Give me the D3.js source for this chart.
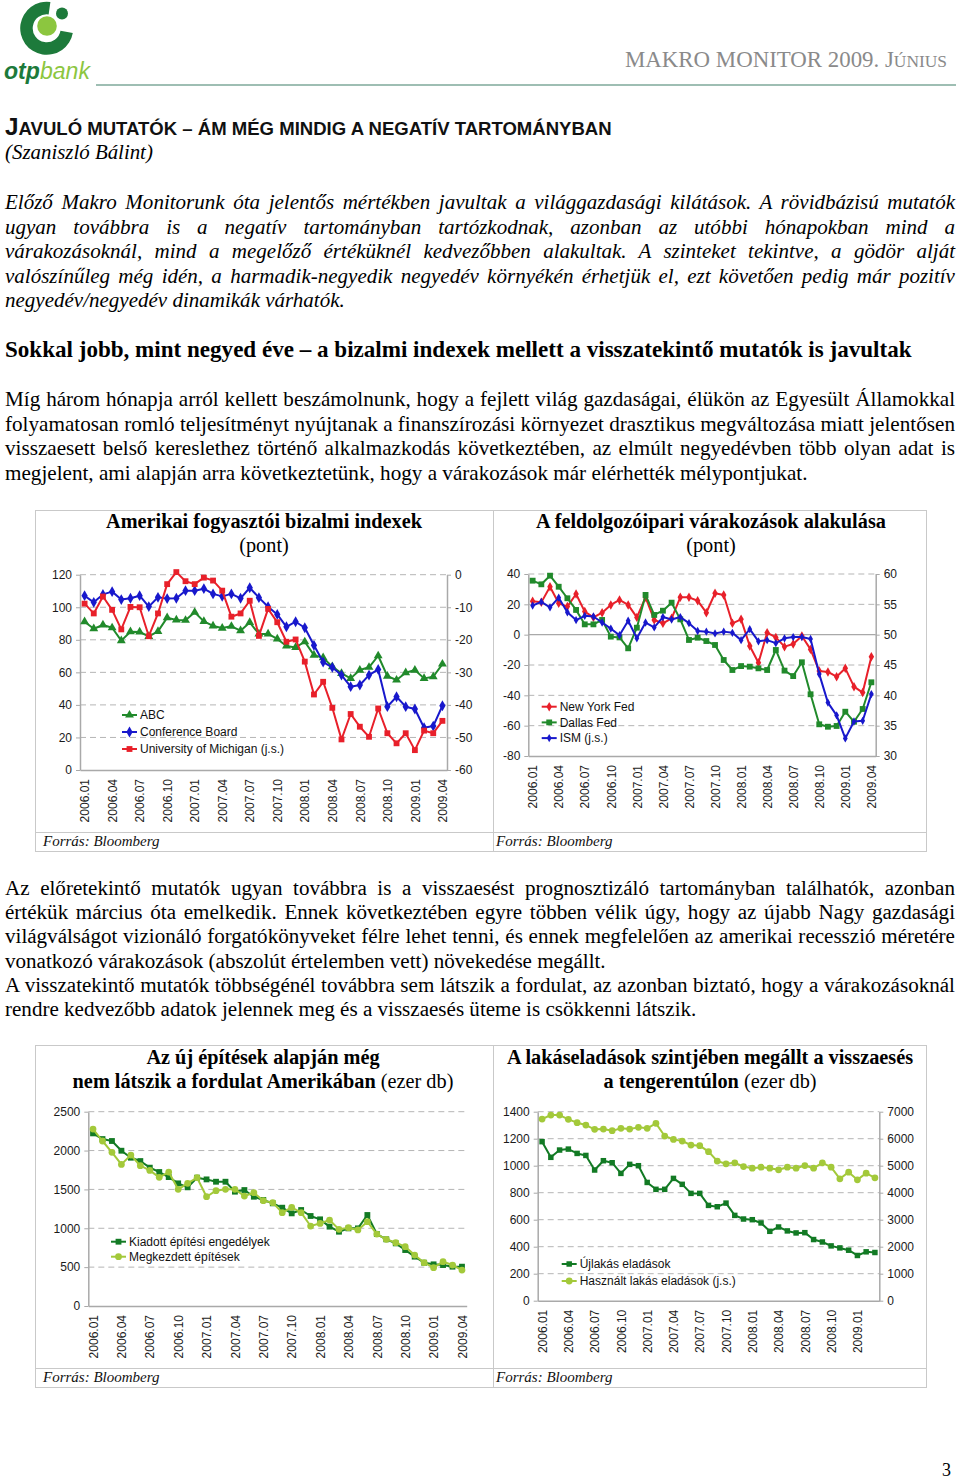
<!DOCTYPE html>
<html><head><meta charset="utf-8">
<script src="https://cdn.jsdelivr.net/npm/d3@7"></script>
<style>body{margin:0;background:#fff;}svg{display:block;}</style>
</head><body>
<svg id="page" width="960" height="1481"></svg>
<script>
// ---------------- DATA ----------------
const months = ["2006.01","2006.02","2006.03","2006.04","2006.05","2006.06","2006.07","2006.08","2006.09","2006.10","2006.11","2006.12",
"2007.01","2007.02","2007.03","2007.04","2007.05","2007.06","2007.07","2007.08","2007.09","2007.10","2007.11","2007.12",
"2008.01","2008.02","2008.03","2008.04","2008.05","2008.06","2008.07","2008.08","2008.09","2008.10","2008.11","2008.12",
"2009.01","2009.02","2009.03","2009.04"];
const months39 = months.slice(0, 39);
const xTickLabels = ["2006.01","2006.04","2006.07","2006.10","2007.01","2007.04","2007.07","2007.10","2008.01","2008.04","2008.07","2008.10","2009.01","2009.04"];
const xTickLabels4 = ["2006.01","2006.04","2006.07","2006.10","2007.01","2007.04","2007.07","2007.10","2008.01","2008.04","2008.07","2008.10","2009.01"];

// Chart 1: Amerikai fogyasztói bizalmi indexek (pont)
const c1LeftTicks = [0,20,40,60,80,100,120];
const c1RightTicks = [-60,-50,-40,-30,-20,-10,0];
const c1Abc = [91.1,86.8,89.1,87.4,79.5,85.0,84.8,82.1,85.2,93.6,92.2,92.0,96.9,91.3,88.5,87.2,88.3,85.6,90.7,83.6,
               83.6,80.5,76.2,75.3,78.8,70.6,69.0,63.5,59.4,56.3,61.4,63.1,70.2,57.7,55.3,59.8,61.4,56.3,57.3,65.1];
const c1ConfBoard = [107.1,103.0,107.9,109.6,104.7,105.5,107.1,100.4,106.1,105.3,105.5,110.2,110.2,111.4,108.2,106.7,108.2,105.5,112.0,105.9,
               100.3,95.6,88.0,91.1,87.4,76.6,66.3,63.1,58.3,51.2,52.2,58.3,61.8,38.9,45.0,38.9,37.5,26.0,27.0,39.5];
const c1Michigan = [-8.9,-11.9,-6.7,-10.8,-16.8,-9.9,-10.0,-18.9,-11.9,-2.9,0.8,-2.0,-2.9,-0.9,-1.8,-4.9,-12.9,-11.9,-8.0,-18.8,
               -10.5,-14.6,-20.6,-19.9,-26.7,-36.8,-32.9,-40.9,-50.6,-42.8,-46.7,-49.8,-41.1,-48.7,-51.8,-48.7,-53.9,-47.9,-48.7,-44.9];
const c1Legend = ["ABC","Conference Board","University of Michigan (j.s.)"];

// Chart 2: A feldolgozóipari várakozások alakulása (pont)
const c2LeftTicks = [-80,-60,-40,-20,0,20,40];
const c2RightTicks = [30,35,40,45,50,55,60];
const c2NyFed = [22.0,21.3,31.6,20.7,18.5,26.8,15.2,11.4,14.5,19.6,22.9,19.6,11.4,24.6,9.7,7.5,10.8,24.6,24.6,22.4,14.5,27.3,26.2,
               7.5,10.1,-7.5,-18.5,1.3,-1.8,-7.9,-6.2,-0.9,-9.7,-24.0,-24.6,-27.7,-22.2,-34.3,-38.2,-14.5];
const c2Dallas = [35.6,33.2,38.9,31.6,24.0,16.3,6.8,6.8,9.7,-1.3,-1.8,-9.0,4.6,26.2,13.0,15.8,21.1,10.1,-3.5,-2.0,-4.2,-6.8,-16.7,
               -23.3,-20.7,-21.1,-22.2,-23.3,-10.1,-23.7,-27.3,-18.2,-39.3,-59.1,-60.7,-60.2,-50.8,-57.4,-49.0,-31.4];
const c2Ism = [54.8,55.4,54.5,56.1,53.7,52.4,53.1,53.0,52.0,51.0,49.9,52.3,49.4,52.0,51.2,52.9,52.5,52.9,51.9,50.6,50.5,50.2,50.5,
               50.3,49.1,50.9,48.9,49.1,48.6,49.4,49.6,49.6,49.3,43.5,38.8,36.7,32.9,35.7,35.8,40.2];
const c2Legend = ["New York Fed","Dallas Fed","ISM (j.s.)"];

// Chart 3: Az új építések (ezer db)
const c3Ticks = [0,500,1000,1500,2000,2500];
const c3Permits = [2221,2148,2123,1998,1908,1865,1780,1724,1659,1578,1527,1651,1629,1599,1599,1471,1492,1406,1364,
               1321,1265,1192,1235,1158,1115,1021,956,999,999,1171,926,858,806,720,635,557,536,527,506,506];
const c3Starts = [2277,2123,1977,1822,1942,1805,1745,1655,1724,1501,1578,1651,1406,1484,1501,1501,1415,1458,1355,
               1330,1201,1269,1201,1029,1063,1106,986,1008,978,1085,926,858,815,763,656,557,493,570,527,463];
const c3Legend = ["Kiadott építési engedélyek","Megkezdett építések"];

// Chart 4: Lakáseladások (ezer db)
const c4LeftTicks = [0,200,400,600,800,1000,1200,1400];
const c4RightTicks = [0,1000,2000,3000,4000,5000,6000,7000];
const c4NewHome = [1178,1062,1116,1123,1091,1076,968,1037,1022,943,1010,1000,876,825,825,906,862,795,795,706,696,723,
               632,605,600,576,514,546,517,502,504,453,435,406,391,374,335,362,357];
const c4Existing = [6728,6877,6877,6716,6593,6506,6346,6358,6296,6383,6358,6420,6383,6568,6099,5975,5914,5765,5741,5519,5173,5068,
               5105,4970,4908,4945,4908,4847,4945,4908,5007,4908,5105,4945,4515,4761,4478,4724,4552];
const c4Legend = ["Újlakás eladások","Használt lakás eladások (j.s.)"];

// ---------------- DRAWING ----------------
const SERIF = "'Liberation Serif','Times New Roman',serif";
const SANS = "'Liberation Sans',Arial,Helvetica,sans-serif";
const svg = d3.select("#page");
svg.append("rect").attr("width", 960).attr("height", 1481).attr("fill", "#fff");

function fitWords(t, width) {
  const len = t.node().getComputedTextLength();
  const n = (t.text().match(/ /g) || []).length;
  if (n > 0) {
    t.style("word-spacing", ((width - len) / n).toFixed(2) + "px");
    const len2 = t.node().getComputedTextLength();
    if (Math.abs(len2 - width) > 3) {
      t.style("word-spacing", null);
      const n2 = t.text().length - 1;
      t.attr("letter-spacing", ((width - len) / n2).toFixed(3));
    }
  }
}
// scale the font sizes of a text (and its tspans) so that it spans the given width
function fitSize(t, width) {
  const len = t.node().getComputedTextLength();
  const s = width / len;
  const fs = parseFloat(t.attr("font-size"));
  if (fs) t.attr("font-size", (fs * s).toFixed(2));
  t.selectAll("tspan").each(function () {
    const el = d3.select(this); const f = parseFloat(el.attr("font-size"));
    if (f) el.attr("font-size", (f * s).toFixed(2));
  });
  return s;
}
function measure(str, size, o) {
  const t = svg.append("text").attr("font-family", SERIF).attr("font-size", size)
    .attr("font-style", o.italic ? "italic" : null).attr("font-weight", o.bold ? "bold" : null).text(str);
  const l = t.node().getComputedTextLength(); t.remove(); return l;
}
function paragraph(lines, y0, lh, o) {
  // font size from the unjustified (short) lines
  let s = 0, k = 0;
  lines.forEach(l => { if (!l[2]) { s += l[1] / measure(l[0], 20, o); k++; } });
  const size = 20 * s / k;
  lines.forEach((l, i) => {
    const t = svg.append("text").attr("x", 5).attr("y", y0 + i * lh)
      .attr("font-family", SERIF).attr("font-size", size).attr("fill", "#000")
      .attr("font-style", o.italic ? "italic" : null).attr("font-weight", o.bold ? "bold" : null)
      .text(l[0]);
    if (l[2]) fitWords(t, l[1]);
  });
}

// ---- Logo ----
const DG = "#1d7a3b", LG = "#8cc63f";
const logo = svg.append("g");
logo.append("path").attr("transform", "translate(46.7,28.3)")
  .attr("d", d3.arc()({innerRadius: 14, outerRadius: 26.5, startAngle: 100 * Math.PI / 180, endAngle: 368 * Math.PI / 180}))
  .attr("fill", DG);
logo.append("circle").attr("cx", 47).attr("cy", 26).attr("r", 9.8).attr("fill", LG);
logo.append("circle").attr("cx", 62).attr("cy", 13.5).attr("r", 6).attr("fill", DG);
const lt = logo.append("text").attr("x", 4).attr("y", 79).attr("font-family", SANS).attr("font-size", 25).attr("font-style", "italic");
lt.append("tspan").attr("font-weight", "bold").attr("fill", DG).text("otp");
lt.append("tspan").attr("fill", LG).text("bank");
fitSize(lt, 86);

// ---- Header ----
svg.append("line").attr("x1", 96).attr("x2", 956).attr("y1", 85).attr("y2", 85).attr("stroke", "#7ea89a").attr("stroke-width", 1.5);
const hd = svg.append("text").attr("x", 625).attr("y", 67).attr("font-family", SERIF).attr("fill", "#8a8a8a");
hd.append("tspan").attr("font-size", 21).text("MAKRO MONITOR 2009. J");
hd.append("tspan").attr("font-size", 16).text("ÚNIUS");
fitSize(hd, 322);

// ---- Heading ----
const h1 = svg.append("text").attr("x", 5).attr("y", 135).attr("font-family", SANS).attr("font-weight", "bold").attr("fill", "#111");
h1.append("tspan").attr("font-size", 19).text("J");
h1.append("tspan").attr("font-size", 14.5).text("AVULÓ MUTATÓK – ÁM MÉG MINDIG A NEGATÍV TARTOMÁNYBAN");
fitSize(h1, 607);
const au = svg.append("text").attr("x", 5).attr("y", 159).attr("font-family", SERIF).attr("font-size", 20)
  .attr("font-style", "italic").text("(Szaniszló Bálint)");
fitSize(au, 148);

// ---- Italic lead paragraph ----
paragraph([
  ["Előző Makro Monitorunk óta jelentős mértékben javultak a világgazdasági kilátások. A rövidbázisú mutatók", 950, true],
  ["ugyan továbbra is a negatív tartományban tartózkodnak, azonban az utóbbi hónapokban mind a", 950, true],
  ["várakozásoknál, mind a megelőző értéküknél kedvezőbben alakultak. A szinteket tekintve, a gödör alját", 950, true],
  ["valószínűleg még idén, a harmadik-negyedik negyedév környékén érhetjük el, ezt követően pedig már pozitív", 950, true],
  ["negyedév/negyedév dinamikák várhatók.", 340, false]
], 209, 24.5, {italic: true});

// ---- Subheading ----
const sh = svg.append("text").attr("x", 5).attr("y", 357).attr("font-family", SERIF).attr("font-size", 21)
  .attr("font-weight", "bold").text("Sokkal jobb, mint negyed éve – a bizalmi indexek mellett a visszatekintő mutatók is javultak");
fitSize(sh, 907);

// ---- Paragraph 2 ----
paragraph([
  ["Míg három hónapja arról kellett beszámolnunk, hogy a fejlett világ gazdaságai, élükön az Egyesült Államokkal", 950, true],
  ["folyamatosan romló teljesítményt nyújtanak a finanszírozási környezet drasztikus megváltozása miatt jelentősen", 950, true],
  ["visszaesett belső kereslethez történő alkalmazkodás következtében, az elmúlt negyedévben több olyan adat is", 950, true],
  ["megjelent, ami alapján arra következtetünk, hogy a várakozások már elérhették mélypontjukat.", 803, false]
], 406, 24.5, {});

// ---- Paragraph 3 ----
paragraph([
  ["Az előretekintő mutatók ugyan továbbra is a visszaesést prognosztizáló tartományban találhatók, azonban", 950, true],
  ["értékük március óta emelkedik. Ennek következtében egyre többen vélik úgy, hogy az újabb Nagy gazdasági", 950, true],
  ["világválságot vizionáló forgatókönyveket félre lehet tenni, és ennek megfelelően az amerikai recesszió méretére", 950, true],
  ["vonatkozó várakozások (abszolút értelemben vett) növekedése megállt.", 601, false],
  ["A visszatekintő mutatók többségénél továbbra sem látszik a fordulat, az azonban biztató, hogy a várakozásoknál", 950, true],
  ["rendre kedvezőbb adatok jelennek meg és a visszaesés üteme is csökkenni látszik.", 692, false]
], 895, 24.2, {});

// page number
svg.append("text").attr("x", 942).attr("y", 1476).attr("font-family", SERIF).attr("font-size", 18).text("3");

// ---- Frames ----
function frame(y0, yDiv, y1) {
  const f = svg.append("g").attr("fill", "none").attr("stroke", "#c9c9c9").attr("stroke-width", 1);
  f.append("rect").attr("x", 35.5).attr("y", y0 + 0.5).attr("width", 891).attr("height", y1 - y0);
  f.append("line").attr("x1", 493.5).attr("x2", 493.5).attr("y1", y0).attr("y2", y1);
  f.append("line").attr("x1", 35).attr("x2", 927).attr("y1", yDiv + 0.5).attr("y2", yDiv + 0.5);
}
frame(510, 832, 851);
frame(1045, 1368, 1387);
[[43, 846], [496, 846], [43, 1382], [496, 1382]].forEach(p =>
  svg.append("text").attr("x", p[0]).attr("y", p[1]).attr("font-family", SERIF).attr("font-style", "italic")
    .attr("font-size", 15).attr("fill", "#111").text("Forrás: Bloomberg"));

// chart titles
function title(cx, y, parts) {
  const t = svg.append("text").attr("x", cx).attr("y", y).attr("text-anchor", "middle")
    .attr("font-family", SERIF).attr("font-size", 20.3).attr("fill", "#000");
  parts.forEach(p => t.append("tspan").attr("font-weight", p[1] ? "bold" : "normal").text(p[0]));
}
title(264, 528, [["Amerikai fogyasztói bizalmi indexek", true]]);
title(264, 552, [["(pont)", false]]);
title(711, 528, [["A feldolgozóipari várakozások alakulása", true]]);
title(711, 552, [["(pont)", false]]);
title(263, 1064, [["Az új építések alapján még", true]]);
title(263, 1088, [["nem látszik a fordulat Amerikában", true], [" (ezer db)", false]]);
title(710, 1064, [["A lakáseladások szintjében megállt a visszaesés", true]]);
title(710, 1088, [["a tengerentúlon", true], [" (ezer db)", false]]);

// ---- Charts ----
const AX = "#a9a9a9", GRID = "#b5b5b5";
const fmt = d => String(d);
function styleAxis(g) {
  g.attr("font-family", SANS).attr("font-size", 12).attr("color", AX);
  g.select(".domain").attr("stroke-width", 1.5);
  g.selectAll("text").attr("fill", "#1a1a1a");
}
function drawChart(c) {
  const g = svg.append("g");
  const x = d3.scalePoint().domain(c.cats).range([c.x0, c.x1]).padding(0.5);
  const yL = d3.scaleLinear().domain(c.leftDomain).range([c.yBot, c.yTop]);
  const yR = c.rightDomain ? d3.scaleLinear().domain(c.rightDomain).range([c.yBot, c.yTop]) : null;
  g.append("g").selectAll("line").data(c.gridVals).join("line")
    .attr("x1", c.x0).attr("x2", c.x1).attr("y1", d => yL(d)).attr("y2", d => yL(d))
    .attr("stroke", GRID).attr("stroke-width", 1).attr("stroke-dasharray", "6,4");
  g.append("g").selectAll("line").data(c.solidVals || []).join("line")
    .attr("x1", c.x0).attr("x2", c.x1).attr("y1", d => yL(d)).attr("y2", d => yL(d))
    .attr("stroke", AX).attr("stroke-width", 1.2);
  const gl = g.append("g").attr("transform", `translate(${c.x0},0)`)
    .call(d3.axisLeft(yL).tickValues(c.leftTicks).tickFormat(fmt).tickSize(4).tickSizeOuter(0).tickPadding(4));
  styleAxis(gl);
  if (yR) {
    const gr = g.append("g").attr("transform", `translate(${c.x1},0)`)
      .call(d3.axisRight(yR).tickValues(c.rightTicks).tickFormat(fmt).tickSize(4).tickSizeOuter(0).tickPadding(4));
    styleAxis(gr);
  }
  const gb = g.append("g").attr("transform", `translate(0,${c.yBot})`)
    .call(d3.axisBottom(x).tickValues(c.xTicks).tickSize(0).tickSizeOuter(0).tickPadding(0));
  styleAxis(gb);
  gb.selectAll("text").attr("transform", "rotate(-90)").attr("text-anchor", "end")
    .attr("x", -9).attr("y", 0).attr("dy", "0.35em");
  c.series.forEach(s => {
    const sc = s.right ? yR : yL;
    const line = d3.line().x((d, i) => x(c.cats[i])).y(d => sc(d));
    g.append("path").datum(s.values).attr("d", line).attr("fill", "none")
      .attr("stroke", s.color).attr("stroke-width", 2).attr("stroke-linejoin", "round");
    const sym = d3.symbol().type(s.symbol).size(s.size);
    g.append("g").selectAll("path").data(s.values).join("path")
      .attr("transform", (d, i) => `translate(${x(c.cats[i])},${sc(d)})`)
      .attr("d", sym).attr("fill", s.color);
  });
  const lg = g.append("g");
  c.series.forEach((s, i) => {
    const y = c.legend.y + i * c.legend.dy;
    lg.append("line").attr("x1", c.legend.x).attr("x2", c.legend.x + 15).attr("y1", y).attr("y2", y)
      .attr("stroke", s.color).attr("stroke-width", 2);
    lg.append("path").attr("transform", `translate(${c.legend.x + 7.5},${y})`)
      .attr("d", d3.symbol().type(s.symbol).size(s.size)()).attr("fill", s.color);
    lg.append("text").attr("x", c.legend.x + 18).attr("y", y).attr("dy", "0.35em")
      .attr("font-family", SANS).attr("font-size", 12).attr("fill", "#111").text(c.labels[i]);
  });
}

const RED = "#e8202a", BLUE = "#1818cc", GREEN = "#218a2b";
const DKG = "#127a24", LTG = "#a3c93a";

drawChart({
  cats: months, x0: 80, x1: 447, yTop: 574.7, yBot: 770,
  leftDomain: [0, 120], rightDomain: [-60, 0],
  leftTicks: c1LeftTicks, rightTicks: c1RightTicks, gridVals: c1LeftTicks.slice(1), xTicks: xTickLabels,
  series: [
    {values: c1Abc, color: GREEN, symbol: d3.symbolTriangle, size: 34},
    {values: c1ConfBoard, color: BLUE, symbol: d3.symbolDiamond, size: 34},
    {values: c1Michigan, color: RED, symbol: d3.symbolSquare, size: 34, right: true}
  ],
  labels: c1Legend, legend: {x: 122, y: 715, dy: 17}
});
drawChart({
  cats: months, x0: 528.3, x1: 875.7, yTop: 574, yBot: 756,
  leftDomain: [-80, 40], rightDomain: [30, 60],
  leftTicks: c2LeftTicks, rightTicks: c2RightTicks, gridVals: [-60, -40, -20, 20, 40], solidVals: [0], xTicks: xTickLabels,
  series: [
    {values: c2NyFed, color: RED, symbol: d3.symbolDiamond, size: 26},
    {values: c2Dallas, color: GREEN, symbol: d3.symbolSquare, size: 34},
    {values: c2Ism, color: BLUE, symbol: d3.symbolDiamond, size: 20, right: true}
  ],
  labels: c2Legend, legend: {x: 541.7, y: 706.7, dy: 15.7}
});
drawChart({
  cats: months, x0: 88.3, x1: 466.7, yTop: 1111.7, yBot: 1306,
  leftDomain: [0, 2500],
  leftTicks: c3Ticks, gridVals: c3Ticks.slice(1), xTicks: xTickLabels,
  series: [
    {values: c3Permits, color: DKG, symbol: d3.symbolSquare, size: 34},
    {values: c3Starts, color: LTG, symbol: d3.symbolCircle, size: 36}
  ],
  labels: c3Legend, legend: {x: 111, y: 1241.7, dy: 15}
});
drawChart({
  cats: months39, x0: 537.7, x1: 879.3, yTop: 1111.7, yBot: 1300.7,
  leftDomain: [0, 1400], rightDomain: [0, 7000],
  leftTicks: c4LeftTicks, rightTicks: c4RightTicks, gridVals: c4LeftTicks.slice(1), xTicks: xTickLabels4,
  series: [
    {values: c4NewHome, color: DKG, symbol: d3.symbolSquare, size: 30},
    {values: c4Existing, color: LTG, symbol: d3.symbolCircle, size: 36, right: true}
  ],
  labels: c4Legend, legend: {x: 561.7, y: 1264, dy: 17}
});
</script>
</body></html>
